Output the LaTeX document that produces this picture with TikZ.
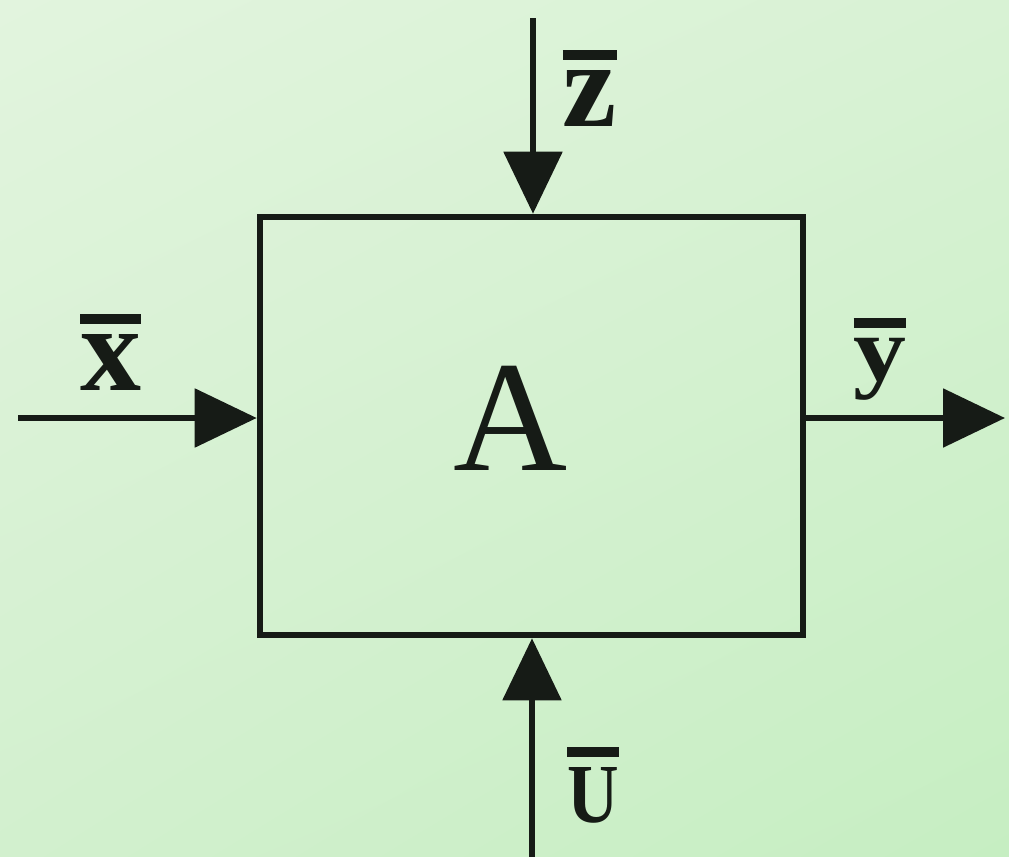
\documentclass[tikz,border=0pt]{standalone}
\usepackage{fontspec}
\usepackage{graphicx}
\setmainfont{Liberation Serif}
\usetikzlibrary{arrows.meta,shadings}
\definecolor{ink}{HTML}{161B16}
\definecolor{bgul}{RGB}{226,244,222}
\definecolor{bgur}{RGB}{216,242,212}
\definecolor{bgll}{RGB}{210,240,206}
\definecolor{bglr}{RGB}{198,238,194}
\newcommand\olbl[1]{\setbox0\hbox{#1}\vbox{\hrule height 5pt width \wd0\kern 5pt\box0}}
\tikzset{
  conn/.style={draw=ink, line width=2.8pt, -{Triangle[length=31pt,width=29pt]}},
  lbl/.style={inner sep=0pt, anchor=north, text=ink, font=\fontsize{61}{62}\selectfont\bfseries},
  blk/.style={draw=ink, line width=3.3pt, minimum width=271.5pt, minimum height=209pt, inner sep=0pt}
}
\begin{document}
\begin{tikzpicture}[x=0.5pt,y=-0.5pt]
\useasboundingbox (0,0) rectangle (1009,857);
\shade[upper left=bgul, upper right=bgur, lower left=bgll, lower right=bglr]
  (0,0) rectangle (1009,857);
\node[blk] (box) at (531.5,426) {};
\node[inner sep=0pt, text=ink, font=\fontsize{79}{80}\selectfont] (A) at (511,418) {A};
\coordinate (zs) at (533,18);
\coordinate (xs) at (18,418);
\coordinate (ye) at (1005,418);
\coordinate (us) at (532,857);
\draw[conn] (zs) -- (zs |- box.north);
\draw[conn] (xs) -- (xs -| box.west);
\draw[conn] (xs -| box.east) -- (ye);
\draw[conn] (us) -- (us |- box.south);
\node[lbl] (zl) at (590,50) {\olbl{z}};
\node[lbl] (xl) at (111,314) {\olbl{x}};
\node[lbl, font=\fontsize{46}{47}\selectfont\bfseries] (yl) at (880,318) {\olbl{\scalebox{1.15}[1]{y}}};
\node[lbl, font=\fontsize{42}{43}\selectfont\bfseries] (ul) at (593,747) {\olbl{\scalebox{0.85}[1]{U}}};
\end{tikzpicture}
\end{document}
